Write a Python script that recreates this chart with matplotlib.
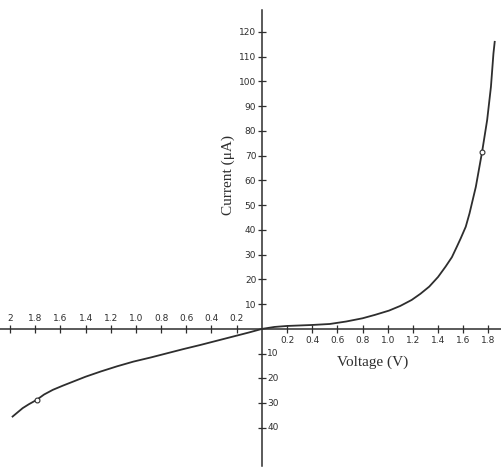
import numpy as np
import matplotlib
matplotlib.use("Agg")
import matplotlib.pyplot as plt

# curve (voltage in V, current in uA)
v_fwd = [0, 0.05, 0.1, 0.2, 0.3, 0.4, 0.54, 0.67, 0.8, 0.9, 1.01, 1.1, 1.19,
         1.26, 1.33, 1.40, 1.46, 1.51, 1.55, 1.58, 1.62, 1.65, 1.70, 1.75,
         1.79, 1.82, 1.84, 1.85]
i_fwd = [0, 0.4, 0.8, 1.2, 1.4, 1.6, 2.0, 3.0, 4.3, 5.7, 7.4, 9.3, 11.7,
         14.2, 17.1, 21.0, 25.2, 29.0, 33.3, 36.6, 41.3, 46.7, 57.4, 71.6,
         84.4, 97.8, 111.3, 116]
v_rev = [0, -0.1, -0.23, -0.36, -0.49, -0.62, -0.75, -0.88, -1.02, -1.15,
         -1.28, -1.40, -1.50, -1.58, -1.66, -1.73, -1.79, -1.85, -1.90, -1.98]
i_rev = [0, -1.4, -3.1, -4.8, -6.5, -8.1, -9.8, -11.5, -13.2, -15.1,
         -17.2, -19.3, -21.3, -22.9, -24.6, -26.5, -28.7, -30.4, -32, -35.4]
v_marks = [1.75, -1.79]
i_marks = [71.6, -28.7]

xticks_pos = [0.2, 0.4, 0.6, 0.8, 1.0, 1.2, 1.4, 1.6, 1.8]
xticks_neg = [-0.2, -0.4, -0.6, -0.8, -1.0, -1.2, -1.4, -1.6, -1.8, -2.0]
xlabels_neg = ["0.2", "0.4", "0.6", "0.8", "1.0", "1.2", "1.4", "1.6", "1.8", "2"]
yticks_pos = [10, 20, 30, 40, 50, 60, 70, 80, 90, 100, 110, 120]
yticks_neg = [-10, -20, -30, -40]

ink = "#2e2e2e"
fig = plt.figure(figsize=(5.01, 4.71), dpi=100)
ax = fig.add_axes([0, 0, 1, 1])
ax.set_xlim(-2.08, 1.90)
ax.set_ylim(-57.4, 132.9)

for s in ["top", "right"]:
    ax.spines[s].set_visible(False)
ax.spines["left"].set_position(("data", 0))
ax.spines["bottom"].set_position(("data", 0))
ax.spines["left"].set_bounds(-55.5, 129)
ax.spines["left"].set_color(ink)
ax.spines["bottom"].set_color(ink)
ax.spines["left"].set_linewidth(1.1)
ax.spines["bottom"].set_linewidth(1.1)

ax.set_xticks(xticks_neg + xticks_pos)
ax.set_xticklabels([""] * len(xticks_neg) + ["%.1f" % t for t in xticks_pos])
ax.set_yticks(yticks_neg + yticks_pos)
ax.set_yticklabels([""] * len(yticks_neg) + [str(t) for t in yticks_pos])
ax.tick_params(axis="both", direction="inout", length=6, width=0.9,
               color=ink, labelcolor=ink, labelsize=6.5)
ax.tick_params(axis="x", pad=2)
ax.tick_params(axis="y", pad=1)

for t, lab in zip(xticks_neg, xlabels_neg):
    ax.annotate(lab, (t, 0), xytext=(0, 4), textcoords="offset points",
                ha="center", va="bottom", fontsize=6.5, color=ink)
for t in yticks_neg:
    ax.annotate(str(-t), (0, t), xytext=(4, 0), textcoords="offset points",
                ha="left", va="center", fontsize=6.5, color=ink)

ax.plot(v_fwd, i_fwd, color=ink, lw=1.3, solid_joinstyle="round")
ax.plot(v_rev, i_rev, color=ink, lw=1.3, solid_joinstyle="round")
ax.plot(v_marks, i_marks, "o", ms=3.5, mfc="white", mec=ink, mew=0.8)

ax.text(-0.27, 62, "Current (\u03bcA)", rotation=90, ha="center", va="center",
        family="Liberation Serif", fontsize=11, color=ink)
ax.text(0.88, -13.5, "Voltage (V)", ha="center", va="center",
        family="Liberation Serif", fontsize=11, color=ink)

fig.savefig("out.png", dpi=100)
